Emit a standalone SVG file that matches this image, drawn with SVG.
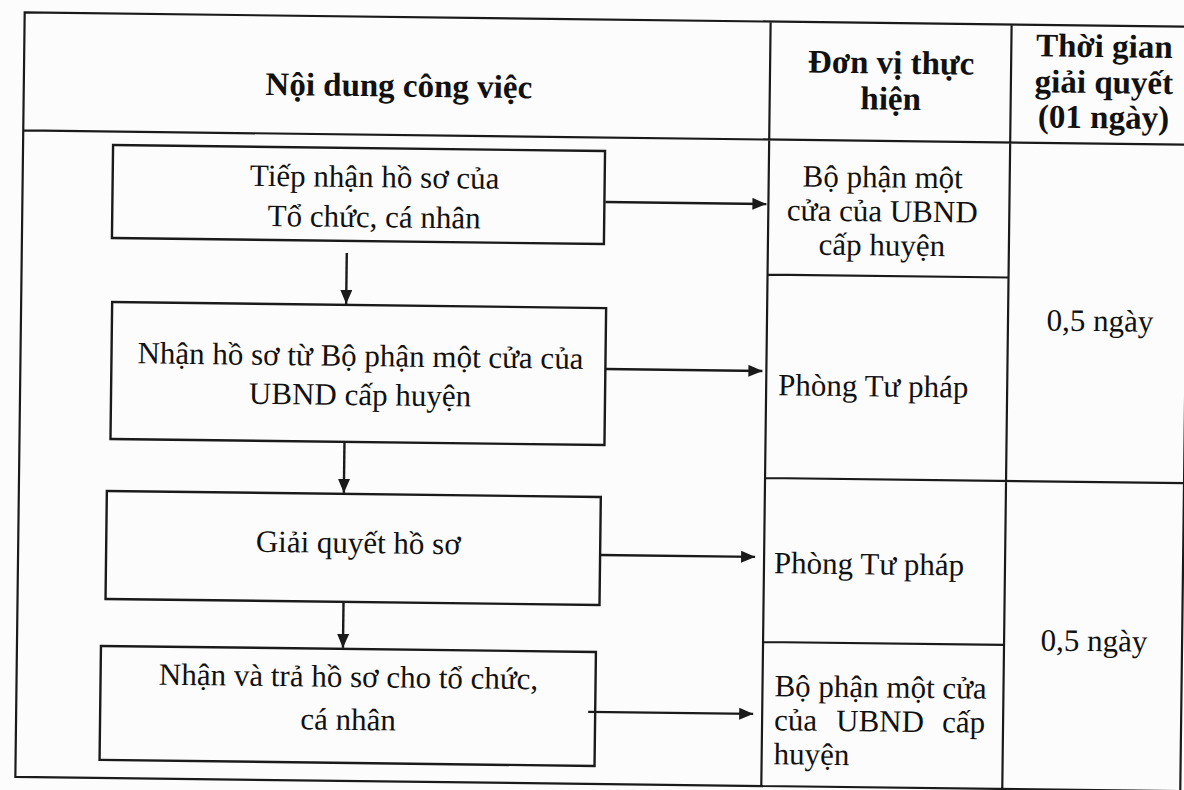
<svg xmlns="http://www.w3.org/2000/svg" width="1184" height="790" viewBox="0 0 1184 790">
<style>
.ln{stroke:#1a1a1a;stroke-width:2.2;fill:none}
.box{stroke:#1a1a1a;stroke-width:2.4;fill:none}
.c{stroke:#1a1a1a;stroke-width:2.4;fill:none;marker-end:url(#ah)}
</style>
<defs>
<marker id="ah" viewBox="0 0 14 12" refX="14" refY="6" markerWidth="14" markerHeight="12" markerUnits="userSpaceOnUse" orient="auto">
<path d="M0,0 L14,6 L0,12 z" fill="#1a1a1a"/>
</marker>
</defs>
<rect width="1184" height="790" fill="#fcfcfc"/>
<g transform="rotate(0.7 600 400)">
<g id="table">
<path class="ln" d="M20,19.5 L1185,19.5 L1185,784 L20,784 Z M20,137.5 L1185,137.5 M766,19.5 L766,784 M1007,19.5 L1007,784 M766,272.5 L1007,272.5 M766,476 L1185,476 M766,640 L1007,640"/>
</g>
<g id="headers" fill="#111" text-anchor="middle" font-weight="bold" font-size="33">
<text font-family="Liberation Serif" x="395" y="99">Nội dung công việc</text>
<text font-family="Liberation Serif" x="887" y="70">Đơn vị thực</text>
<text font-family="Liberation Serif" x="887" y="106">hiện</text>
<text font-family="Liberation Serif" x="1100" y="51">Thời gian</text>
<text font-family="Liberation Serif" x="1100" y="87">giải quyết</text>
<text font-family="Liberation Serif" x="1100" y="122">(01 ngày)</text>
</g>
<g id="n1" fill="#111" text-anchor="middle" font-size="31">
<rect class="box" x="110" y="151" width="492" height="93"/>
<text font-family="Liberation Serif" x="372" y="190">Tiếp nhận hồ sơ của</text>
<text font-family="Liberation Serif" x="372" y="230">Tổ chức, cá nhân</text>
</g>
<g id="n2" fill="#111" text-anchor="middle" font-size="31">
<rect class="box" x="111" y="308" width="494" height="137"/>
<text font-family="Liberation Serif" x="360" y="369">Nhận hồ sơ từ Bộ phận một cửa của</text>
<text font-family="Liberation Serif" x="360" y="408">UBND cấp huyện</text>
</g>
<g id="n3" fill="#111" text-anchor="middle" font-size="31">
<rect class="box" x="108" y="497" width="494" height="108"/>
<text font-family="Liberation Serif" x="360" y="556">Giải quyết hồ sơ</text>
</g>
<g id="n4" fill="#111" text-anchor="middle" font-size="31">
<rect class="box" x="104" y="652" width="495" height="114"/>
<text font-family="Liberation Serif" x="352" y="690">Nhận và trả hồ sơ cho tổ chức,</text>
<text font-family="Liberation Serif" x="352" y="733">cá nhân</text>
</g>
<g id="u1" fill="#111" text-anchor="middle" font-size="31">
<text font-family="Liberation Serif" x="880" y="184">Bộ phận một</text>
<text font-family="Liberation Serif" x="880" y="218">cửa của UBND</text>
<text font-family="Liberation Serif" x="880" y="252">cấp huyện</text>
</g>
<g id="u2" fill="#111" text-anchor="middle" font-size="31"><text font-family="Liberation Serif" x="873" y="393">Phòng Tư pháp</text></g>
<g id="u3" fill="#111" text-anchor="middle" font-size="31"><text font-family="Liberation Serif" x="871" y="571">Phòng Tư pháp</text></g>
<g id="u4" fill="#111" font-size="31">
<text font-family="Liberation Serif" x="778" y="694">Bộ phận một cửa</text>
<text font-family="Liberation Serif" x="778" y="728">của</text>
<text font-family="Liberation Serif" x="884" y="728" text-anchor="middle">UBND</text>
<text font-family="Liberation Serif" x="989" y="728" text-anchor="end">cấp</text>
<text font-family="Liberation Serif" x="778" y="762">huyện</text>
</g>
<g id="time1" fill="#111" text-anchor="middle" font-size="31"><text font-family="Liberation Serif" x="1099" y="325">0,5 ngày</text></g>
<g id="time2" fill="#111" text-anchor="middle" font-size="31"><text font-family="Liberation Serif" x="1097" y="645">0,5 ngày</text></g>
<g id="connectors">
<path class="c" d="M345,256 L345,307"/>
<path class="c" d="M345,446 L345,496"/>
<path class="c" d="M346,606 L346,651"/>
<path class="c" d="M603,202 L764,202"/>
<path class="c" d="M605,369 L762,369"/>
<path class="c" d="M602,555 L757,555"/>
<path class="c" d="M592,712 L757,712"/>
</g>
</g>
</svg>
